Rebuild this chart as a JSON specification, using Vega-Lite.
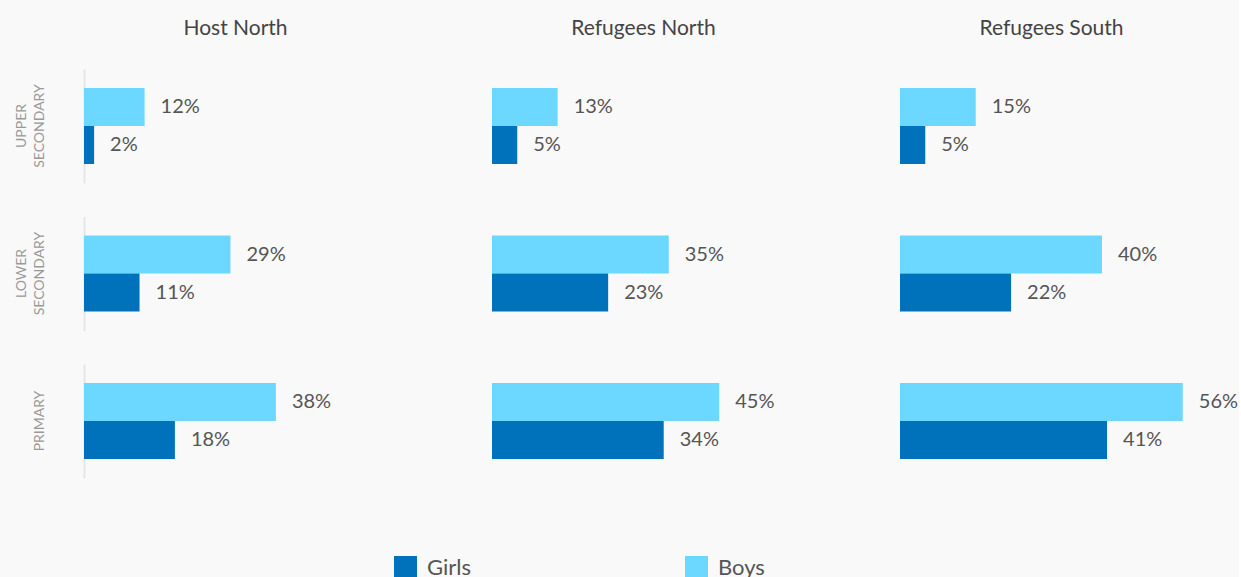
{
  "$schema": "https://vega.github.io/schema/vega-lite/v6.json",
  "background": "#f9f9f9",
  "padding": {"left": 14, "top": 18, "right": 0, "bottom": 0},
  "bounds": "flush",
  "config": {
    "font": "Lato",
    "view": {"stroke": null},
    "legend": {
      "orient": "none",
      "direction": "horizontal",
      "symbolType": "square",
      "symbolSize": 529,
      "symbolStrokeWidth": 0,
      "labelFontSize": 22,
      "labelColor": "#555555",
      "columnPadding": 214,
      "labelOffset": 10
    }
  },
  "data": {
    "values": [
      {"group": "Host North", "level": "Upper secondary", "sex": "Boys", "value": 0.12},
      {"group": "Host North", "level": "Upper secondary", "sex": "Girls", "value": 0.02},
      {"group": "Host North", "level": "Lower secondary", "sex": "Boys", "value": 0.29},
      {"group": "Host North", "level": "Lower secondary", "sex": "Girls", "value": 0.11},
      {"group": "Host North", "level": "Primary", "sex": "Boys", "value": 0.38},
      {"group": "Host North", "level": "Primary", "sex": "Girls", "value": 0.18},
      {"group": "Refugees North", "level": "Upper secondary", "sex": "Boys", "value": 0.13},
      {"group": "Refugees North", "level": "Upper secondary", "sex": "Girls", "value": 0.05},
      {"group": "Refugees North", "level": "Lower secondary", "sex": "Boys", "value": 0.35},
      {"group": "Refugees North", "level": "Lower secondary", "sex": "Girls", "value": 0.23},
      {"group": "Refugees North", "level": "Primary", "sex": "Boys", "value": 0.45},
      {"group": "Refugees North", "level": "Primary", "sex": "Girls", "value": 0.34},
      {"group": "Refugees South", "level": "Upper secondary", "sex": "Boys", "value": 0.15},
      {"group": "Refugees South", "level": "Upper secondary", "sex": "Girls", "value": 0.05},
      {"group": "Refugees South", "level": "Lower secondary", "sex": "Boys", "value": 0.40},
      {"group": "Refugees South", "level": "Lower secondary", "sex": "Girls", "value": 0.22},
      {"group": "Refugees South", "level": "Primary", "sex": "Boys", "value": 0.56},
      {"group": "Refugees South", "level": "Primary", "sex": "Girls", "value": 0.41}
    ]
  },
  "facet": {
    "row": {
      "field": "level",
      "type": "nominal",
      "sort": ["Upper secondary", "Lower secondary", "Primary"],
      "title": null,
      "header": {
        "labelAngle": -90,
        "labelAlign": "center",
        "labelFontSize": 14,
        "labelLineHeight": 18,
        "labelColor": "#999999",
        "labelPadding": 30,
        "labelExpr": "split(upper(datum.value), ' ')"
      }
    },
    "column": {
      "field": "group",
      "type": "nominal",
      "title": null,
      "header": {
        "labelFontSize": 21,
        "labelColor": "#444444",
        "labelPadding": 30
      }
    }
  },
  "spacing": {"row": 33.5, "column": 105},
  "spec": {
    "width": 303,
    "height": 114,
    "encoding": {
      "y": {
        "field": "sex",
        "type": "nominal",
        "sort": ["Boys", "Girls"],
        "scale": {"paddingInner": 0, "paddingOuter": 0.5},
        "axis": {"title": null, "labels": false, "ticks": false, "domainColor": "#e6e6e6", "domainWidth": 2}
      },
      "x": {
        "field": "value",
        "type": "quantitative",
        "scale": {"domain": [0, 0.6], "nice": false},
        "axis": null
      }
    },
    "layer": [
      {
        "mark": {"type": "bar"},
        "encoding": {
          "color": {
            "field": "sex",
            "type": "nominal",
            "scale": {"domain": ["Girls", "Boys"], "range": ["#0072BC", "#6CD8FF"]},
            "legend": {"title": null, "legendX": 310, "legendY": 487}
          }
        }
      },
      {
        "mark": {"type": "text", "align": "left", "baseline": "middle", "dx": 16, "fontSize": 20, "color": "#555555"},
        "encoding": {
          "text": {"field": "value", "type": "quantitative", "format": ".0%"}
        }
      }
    ]
  }
}
